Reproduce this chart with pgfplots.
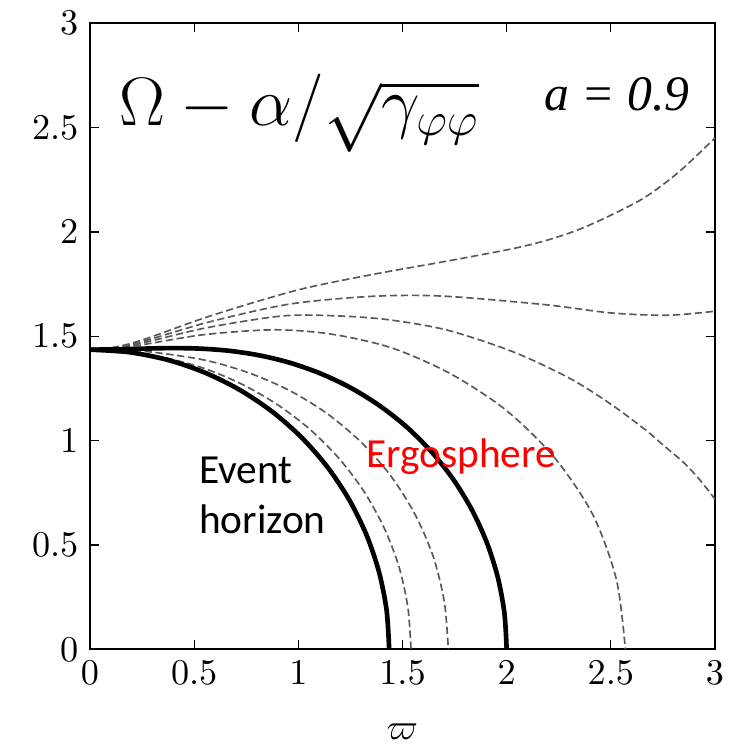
\documentclass[border=0pt]{standalone}
\usepackage{pgfplots}
\pgfplotsset{compat=1.18}
\usepackage{fontspec}
\newfontfamily\labelfont{Carlito}
\newfontfamily\timesit{Liberation Serif Italic}

\tikzset{
  levelline/.style={draw=black!65, line width=0.5pt, dash pattern=on 2.2pt off 1.1pt},
  boundline/.style={draw=black, line width=1.4pt},
}

\begin{document}
\begin{tikzpicture}
\begin{axis}[
  width=188.8pt, height=189.2pt, scale only axis,
  xmin=0, xmax=3, ymin=0, ymax=3,
  xtick={0,0.5,1,1.5,2,2.5,3},
  ytick={0,0.5,1,1.5,2,2.5,3},
  tick align=inside,
  major tick length=2.7pt,
  axis line style={line width=0.6pt},
  every tick/.style={line width=0.4pt, black},
  tick label style={font=\fontsize{11}{13}\selectfont},
  xlabel={$\varpi$},
  xlabel style={at={(axis description cs:0.5,0)}, anchor=center, yshift=-25pt,
                font=\fontsize{11}{13}\selectfont},
]
% level 0.2 (inside the ergoregion)
\addplot[levelline, smooth, tension=0.5] coordinates {
  (0,1.436) (0.1877,1.4257) (0.3736,1.3945) (0.5564,1.3433) (0.7325,1.2687)
  (0.8998,1.1726) (1.0549,1.0549) (1.1941,0.9162) (1.314,0.7585)
  (1.4108,0.5844) (1.4827,0.3973) (1.5258,0.2008) (1.541,0)
};
% level 0.1
\addplot[levelline, smooth, tension=0.5] coordinates {
  (0,1.436) (0.1888,1.4346) (0.3788,1.4138) (0.5721,1.3812) (0.7644,1.324)
  (0.9534,1.2425) (1.1333,1.1333) (1.298,0.996) (1.4425,0.8329)
  (1.5605,0.6464) (1.6486,0.4418) (1.7013,0.2239) (1.72,0)
};
% level -0.1
\addplot[levelline, smooth, tension=0.5] coordinates {
  (0,1.436) (0.1262,1.4427) (0.2575,1.4605) (0.5489,1.508) (0.884,1.531)
  (1.1589,1.5102) (1.4453,1.4453) (1.7249,1.3235) (1.992,1.15)
  (2.2266,0.9223) (2.413,0.6465) (2.5272,0.3327) (2.57,0)
};
% level -0.14
\addplot[levelline, smooth, tension=0.5] coordinates {
  (0,1.436) (0.1264,1.4451) (0.2592,1.4698) (0.5609,1.5411) (0.9222,1.5973)
  (1.18,1.598) (1.427,1.58) (1.713,1.53) (2.03,1.426) (2.3,1.30)
  (2.5,1.175) (2.666,1.052) (2.75,0.98) (2.85,0.895) (2.925,0.815) (3.0,0.72)
};
% level -0.17
\addplot[levelline, smooth, tension=0.5] coordinates {
  (0,1.436) (0.1266,1.4473) (0.2605,1.4774) (0.5708,1.5684) (0.9548,1.6537)
  (1.347,1.691) (1.6925,1.6925) (2.189,1.651) (2.5,1.612) (2.773,1.601)
  (3.0,1.62)
};
% level -0.2
\addplot[levelline, smooth, tension=0.5] coordinates {
  (0,1.436) (0.1268,1.4495) (0.262,1.486) (0.582,1.599) (0.994,1.721)
  (1.35,1.795) (1.713,1.86) (2.03,1.92) (2.2,1.962) (2.348,2.012)
  (2.5,2.08) (2.666,2.167) (2.83,2.29) (3.0,2.45)
};
% event horizon, r = 1.436
\addplot[boundline, smooth] coordinates {
  (0,1.436) (0.1874,1.4237) (0.3717,1.3871) (0.5495,1.3267) (0.718,1.2436)
  (0.8742,1.1393) (1.0154,1.0154) (1.1393,0.8742) (1.2436,0.718)
  (1.3267,0.5495) (1.3871,0.3717) (1.4237,0.1874) (1.436,0)
};
% ergosphere (static limit)
\addplot[boundline, smooth] coordinates {
  (0,1.436) (0.1258,1.4374) (0.254,1.4408) (0.3868,1.4434) (0.5245,1.4411)
  (0.6671,1.4306) (0.8133,1.4086) (0.9612,1.3727) (1.1084,1.3209)
  (1.2526,1.2526) (1.3908,1.1671) (1.5208,1.0649) (1.6394,0.9465)
  (1.7445,0.8134) (1.8337,0.6674) (1.9053,0.5105) (1.9575,0.3452)
  (1.9893,0.174) (2,0)
};
\node[anchor=base west, inner sep=0pt, font=\fontsize{20.5}{24}\selectfont]
  at (axis cs:0.14,2.51) {$\Omega - \alpha/\sqrt{\gamma_{\varphi\varphi}}$};
\node[anchor=base east, inner sep=0pt, font=\timesit\fontsize{15}{18}\selectfont]
  at (axis cs:2.88,2.58) {a = 0.9};
\node[anchor=base west, inner sep=0pt, font=\labelfont\fontsize{12.5}{15}\selectfont]
  at (axis cs:0.521,0.794) {Event};
\node[anchor=base west, inner sep=0pt, font=\labelfont\fontsize{12.5}{15}\selectfont]
  at (axis cs:0.521,0.556) {horizon};
\node[anchor=base west, inner sep=0pt, text=red, font=\labelfont\fontsize{12.5}{15}\selectfont]
  at (axis cs:1.322,0.872) {Ergosphere};
\end{axis}
\path ([shift={(-27.2pt,-29.1pt)}]current axis.south west)
  rectangle ([shift={(5.1pt,7pt)}]current axis.north east);
\end{tikzpicture}
\end{document}
